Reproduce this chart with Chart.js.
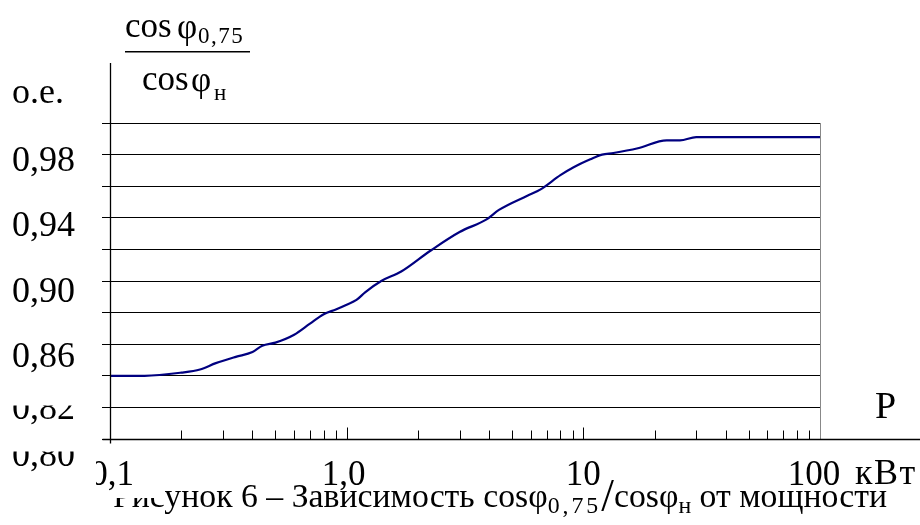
<!DOCTYPE html>
<html>
<head>
<meta charset="utf-8">
<script src="https://cdn.jsdelivr.net/npm/chart.js@4"></script>
<style>
  html, body { margin: 0; padding: 0; background: #fff; }
  #wrap { width: 920px; height: 525px; }
</style>
</head>
<body>
<div id="wrap"><canvas id="c" width="920" height="525"></canvas></div>
<script>
// Power, kW (log axis)
const powerKW = [0.1, 0.14, 0.2, 0.24, 0.28, 0.34, 0.4, 0.44, 0.5, 0.6, 0.7, 0.8, 0.9, 1.0,
  1.1, 1.2, 1.4, 1.7, 2.25, 3.0, 3.9, 4.4, 5.8, 6.6, 8.0, 9.1, 10.7, 12, 13.4, 17, 22.5, 25.6, 30, 40, 100];
// cos phi at 0.75 load divided by rated cos phi, p.u.
const cosRatio = [0.840, 0.840, 0.842, 0.844, 0.848, 0.852, 0.855, 0.859, 0.861, 0.866, 0.873, 0.879, 0.882, 0.885,
  0.888, 0.893, 0.900, 0.906, 0.919, 0.931, 0.939, 0.945, 0.954, 0.958, 0.967, 0.972, 0.977, 0.980, 0.981, 0.984, 0.989, 0.989, 0.991, 0.991, 0.991];

// Axis tick labels
const yTickValues = [0.98, 0.94, 0.90, 0.86, 0.82, 0.80];
const yTickLabels = ['0,98', '0,94', '0,90', '0,86', '0,82', '0,80'];
const xDecades = [0.1, 1, 10, 100];
const xTickLabels = ['0,1', '1,0', '10', '100'];
const minorSteps = [2, 3, 4, 5, 6, 7, 8, 9];

const SERIF = '"Liberation Serif", "Times New Roman", serif';

// vertical nudges of the y labels relative to their grid lines
const yLabelNudge = { '0,98': 4, '0,94': 6, '0,90': 8, '0,86': 10, '0,82': -1, '0,80': 14 };
// horizontal nudges of the x labels relative to their decades
const xLabelNudge = { '0,1': 2, '1,0': -3, '10': 0, '100': -6 };

function font(px) { return px + 'px ' + SERIF; }

// caption pieces: text, font size, baseline shift, extra letter spacing
const captionParts = [
  ['Рисунок 6 – Зависимость cos', 34, 0, 0],
  ['φ', 34, 0, 0],
  ['0,75', 24, 6, 3],
  ['/', 46, 4, 0],
  ['cos', 34, 0, 0],
  ['φ', 34, 0, 0],
  ['н', 24, 6, 0],
  [' от мощности', 34, 0, 0]
];

const decor = {
  id: 'decor',
  afterDraw(chart) {
    const ctx = chart.ctx;
    const xs = chart.scales.x, ys = chart.scales.y;
    const area = chart.chartArea;
    const x0 = Math.round(xs.getPixelForValue(0.1)) + 0.5;
    const yBase = Math.round(ys.getPixelForValue(0.8)) + 0.5;

    ctx.save();
    // right border of the plot
    ctx.strokeStyle = '#888';
    ctx.lineWidth = 1;
    ctx.beginPath();
    ctx.moveTo(Math.round(area.right) + 0.5, ys.getPixelForValue(1.0));
    ctx.lineTo(Math.round(area.right) + 0.5, yBase);
    ctx.stroke();

    // axes
    ctx.strokeStyle = '#000';
    ctx.lineWidth = 1.3;
    ctx.beginPath();
    ctx.moveTo(x0, 63);
    ctx.lineTo(x0, yBase + 4);
    ctx.moveTo(x0 - 8, yBase);
    ctx.lineTo(920, yBase);
    ctx.stroke();

    // x tick marks, pointing up into the plot
    ctx.lineWidth = 1;
    ctx.beginPath();
    xDecades.forEach((d, i) => {
      const px = Math.round(xs.getPixelForValue(d)) + 0.5;
      if (i > 0 && i < xDecades.length - 1) {
        ctx.moveTo(px, yBase);
        ctx.lineTo(px, yBase - 12);
      }
      if (i < xDecades.length - 1) {
        minorSteps.forEach(m => {
          const mx = Math.round(xs.getPixelForValue(d * m)) + 0.5;
          ctx.moveTo(mx, yBase);
          ctx.lineTo(mx, yBase - 9);
        });
      }
    });
    ctx.stroke();

    ctx.fillStyle = '#000';
    ctx.textBaseline = 'alphabetic';

    // y labels (upper ones)
    ctx.font = font(36);
    ctx.textAlign = 'right';
    yTickValues.forEach((v, i) => {
      const lab = yTickLabels[i];
      if (lab === '0,80') return;
      const cy = ys.getPixelForValue(v) + yLabelNudge[lab];
      ctx.save();
      if (lab === '0,82') {
        ctx.beginPath();
        ctx.rect(0, cy - 1, 100, 40);
        ctx.clip();
      }
      ctx.fillText(lab, 75, cy + 12.5);
      ctx.restore();
    });

    // unit of the y axis
    ctx.textAlign = 'left';
    ctx.font = font(36);
    ctx.fillText('о.е.', 12, 103);

    // fraction cos phi(0,75) / cos phi(н)
    ctx.font = font(35);
    ctx.fillText('cos', 125, 37);
    ctx.fillText('φ', 177, 38);
    ctx.font = font(23);
    ctx.letterSpacing = '1.5px';
    ctx.fillText('0,75', 198, 43);
    ctx.letterSpacing = '0px';
    ctx.fillRect(125, 51, 125, 1.5);
    ctx.font = font(35);
    ctx.fillText('cos', 142, 90);
    ctx.fillText('φ', 191, 91);
    ctx.font = font(23);
    ctx.fillText('н', 214, 100);

    // P and unit on the x axis
    ctx.font = font(38);
    ctx.fillText('P', 875, 418);
    ctx.font = font(36);
    ctx.letterSpacing = '1.5px';
    ctx.fillText('кВт', 855, 484);
    ctx.letterSpacing = '0px';

    // caption, stretched to span 113..887
    const capLeft = 113, capRight = 887, cb = 507;
    let total = 0;
    captionParts.forEach(([t, px, , ls]) => {
      ctx.font = font(px);
      ctx.letterSpacing = ls + 'px';
      total += ctx.measureText(t).width;
    });
    ctx.save();
    ctx.translate(capLeft, 0);
    ctx.scale((capRight - capLeft) / total, 1);
    let cx = 0;
    captionParts.forEach(([t, px, dy, ls]) => {
      ctx.font = font(px);
      ctx.letterSpacing = ls + 'px';
      ctx.fillText(t, cx, cb + dy);
      cx += ctx.measureText(t).width;
    });
    ctx.restore();
    ctx.letterSpacing = '0px';

    // x labels (the first one sits on a white box that cuts the caption)
    ctx.fillStyle = '#fff';
    ctx.fillRect(95, 452, 70, 46);
    ctx.fillStyle = '#000';
    ctx.font = font(35);
    ctx.textAlign = 'center';
    xDecades.forEach((d, i) => {
      const lab = xTickLabels[i];
      ctx.fillText(lab, xs.getPixelForValue(d) + xLabelNudge[lab], 485);
    });

    // lowest y label on its own box, covering the start of "0,1"
    ctx.fillStyle = '#fff';
    ctx.fillRect(0, 451.5, 96, 48);
    ctx.save();
    ctx.beginPath();
    ctx.rect(0, 451.5, 96, 48);
    ctx.clip();
    ctx.fillStyle = '#000';
    ctx.font = font(36);
    ctx.textAlign = 'right';
    ctx.fillText('0,80', 75, ys.getPixelForValue(0.80) + yLabelNudge['0,80'] + 12.5);
    ctx.restore();

    ctx.restore();
  }
};

new Chart(document.getElementById('c'), {
  type: 'line',
  data: {
    datasets: [{
      data: powerKW.map((p, i) => ({ x: p, y: cosRatio[i] })),
      borderColor: '#000080',
      borderWidth: 2.2,
      pointRadius: 0,
      cubicInterpolationMode: 'monotone',
      fill: false
    }]
  },
  options: {
    responsive: false,
    animation: false,
    devicePixelRatio: 1,
    layout: { padding: { left: 102, right: 100, top: 123, bottom: 86 } },
    plugins: { legend: { display: false }, tooltip: { enabled: false } },
    scales: {
      x: {
        type: 'logarithmic',
        min: 0.1,
        max: 100,
        ticks: { display: false },
        grid: { display: false, drawTicks: false },
        border: { display: false }
      },
      y: {
        min: 0.8,
        max: 1.0,
        ticks: { display: false, stepSize: 0.02 },
        grid: { color: '#000', lineWidth: 1, drawTicks: true, tickLength: 8 },
        border: { display: false }
      }
    }
  },
  plugins: [decor]
});
</script>
</body>
</html>
